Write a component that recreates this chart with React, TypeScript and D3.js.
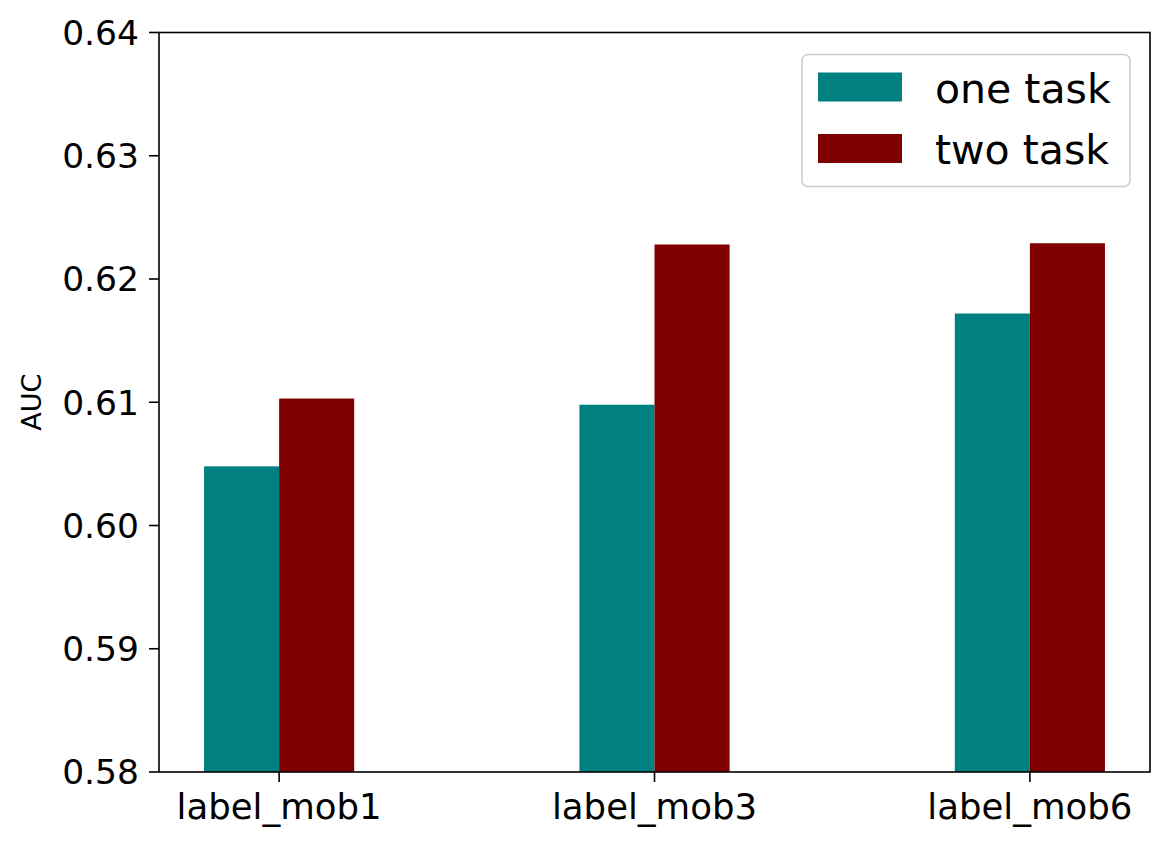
import * as d3 from 'd3';

const categories = ['label_mob1', 'label_mob3', 'label_mob6'];
const seriesNames = ['one task', 'two task'];
const oneTask = [0.6048, 0.6098, 0.6172];
const twoTask = [0.6103, 0.6228, 0.6229];
const yTicks = [0.58, 0.59, 0.6, 0.61, 0.62, 0.63, 0.64];
const colors = ['#008080', '#800000'];

const width = 1174;
const height = 847;
const left = 159;
const right = 1150;
const top = 32.5;
const bottom = 772;
const barW = 0.2;

const App = () => {
  const x = d3.scaleLinear([-0.32, categories.length - 1 + 0.32], [left, right]);
  const y = d3.scaleLinear([0.58, 0.64], [bottom, top]);
  const series = [oneTask, twoTask];

  return (
    <div style={{ position: 'absolute', left: 0, top: 0 }}>
      <svg width={width} height={height} fontFamily="DejaVu Sans" style={{ display: 'block', background: '#fff' }}>
        {/* bars */}
        {series.map((vals, s) =>
          vals.map((v, i) => {
            const x0 = x(i + (s - 1) * barW);
            const x1 = x(i + s * barW);
            return (
              <rect
                key={`${s}-${i}`}
                x={x0}
                y={y(v)}
                width={x1 - x0}
                height={y(0.58) - y(v)}
                fill={colors[s]}
              />
            );
          }),
        )}

        {/* frame */}
        <rect x={left} y={top} width={right - left} height={bottom - top} fill="none" stroke="#000" strokeWidth={1.6} />

        {/* y axis */}
        {yTicks.map(t => (
          <g key={t} transform={`translate(0,${y(t)})`}>
            <line x1={left - 10} x2={left} stroke="#000" strokeWidth={1.6} />
            <text x={left - 20} dy="0.36em" textAnchor="end" fontSize={34.5}>
              {d3.format('.2f')(t)}
            </text>
          </g>
        ))}
        <text transform={`translate(41,${(top + bottom) / 2}) rotate(-90)`} textAnchor="middle" fontSize={27}>
          AUC
        </text>

        {/* x axis */}
        {categories.map((c, i) => (
          <g key={c} transform={`translate(${x(i)},${bottom})`}>
            <line y2={10} stroke="#000" strokeWidth={1.6} />
            <text y={47} textAnchor="middle" fontSize={35.5}>
              {c}
            </text>
          </g>
        ))}

        {/* legend */}
        <g>
          <rect x={802} y={54.5} width={328} height={132} rx={6} fill="#fff" fillOpacity={0.8} stroke="#cccccc" strokeWidth={1.6} />
          {seriesNames.map((n, s) => (
            <g key={n} transform={`translate(0,${s * 61.5})`}>
              <rect x={818} y={72.5} width={84} height={29} fill={colors[s]} />
              <text x={935} y={102.5} fontSize={41}>
                {n}
              </text>
            </g>
          ))}
        </g>
      </svg>
    </div>
  );
};

export default App;
